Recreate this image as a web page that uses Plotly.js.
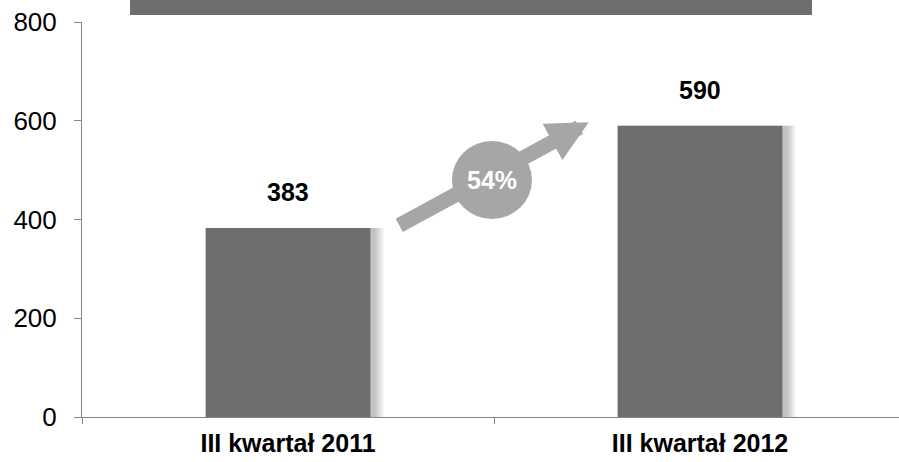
<!DOCTYPE html>
<html>
<head>
<meta charset="utf-8">
<script src="https://cdn.plot.ly/plotly-3.0.1.min.js"></script>
<style>
  html, body { margin: 0; padding: 0; background: #fff; }
  #chart { width: 899px; height: 462px; }
</style>
</head>
<body>
<div id="chart"></div>
<script>
const categories = ['III kwartał 2011', 'III kwartał 2012'];
const values = [383, 590];
const growthLabel = '54%';
const yTicks = [0, 200, 400, 600, 800];

const barColor = '#6d6e70';
const arrowColor = '#a6a6a6';
const fontFam = 'Liberation Sans, Arial, sans-serif';

// miękki cień z prawej strony słupków
const shadowSteps = [11, 9, 7, 5, 3];
const shadows = shadowSteps.map(k => ({
    type: 'bar',
    x: categories,
    y: values,
    width: 0.4 + k * 0.00243,
    offset: -0.2 + 0.005,
    marker: { color: 'rgba(0,0,0,0.05)', line: { width: 0 } },
    hoverinfo: 'skip'
}));

const bars = {
    type: 'bar',
    x: categories,
    y: values,
    width: 0.4,
    offset: -0.2,
    marker: { color: barColor, line: { width: 0 } },
    hoverinfo: 'skip'
};

// etykiety nad słupkami
const labelAnnotations = categories.map((c, i) => ({
    x: c, y: values[i], text: '<b>' + values[i] + '</b>',
    showarrow: false, yshift: 36,
    font: { size: 25, color: '#000', family: fontFam }
}));

// strzałka wzrostu
const arrowAnnotation = {
    x: 0.73, y: 597, xref: 'x', yref: 'y',
    ax: -191, ay: 104, axref: 'pixel', ayref: 'pixel',
    text: '', showarrow: true,
    arrowhead: 2, arrowsize: 0.55, arrowwidth: 15, arrowcolor: arrowColor
};

const growthText = {
    x: 0.495, y: 480, xref: 'x', yref: 'y',
    text: '<b>' + growthLabel + '</b>', showarrow: false,
    font: { size: 25, color: '#ffffff', family: fontFam }
};

const layout = {
    width: 899, height: 462,
    margin: { l: 82, r: 0, t: 22, b: 45 },
    paper_bgcolor: '#fff', plot_bgcolor: '#fff',
    font: { family: fontFam, size: 24, color: '#000' },
    showlegend: false,
    barmode: 'overlay',
    xaxis: {
        type: 'category',
        range: [-0.5, 1.483],
        showline: true, linecolor: '#868686', linewidth: 1,
        ticks: 'outside', tickson: 'boundaries', ticklen: 6, tickcolor: '#868686',
        tickfont: { size: 25, color: '#000', family: fontFam, weight: 'bold' },
        ticklabelstandoff: 4,
        showgrid: false, zeroline: false, fixedrange: true
    },
    yaxis: {
        range: [0, 800],
        tickvals: yTicks,
        showline: true, linecolor: '#868686', linewidth: 1,
        ticks: 'outside', ticklen: 7, tickcolor: '#868686',
        tickfont: { size: 26, color: '#000', family: fontFam },
        ticklabelstandoff: 12,
        showgrid: false, zeroline: false, fixedrange: true
    },
    shapes: [
        // ciemny pasek u góry (tytuł ucięty)
        { type: 'rect', xref: 'paper', yref: 'paper', x0: 0.0588, x1: 0.8935, y0: 1.0177, y1: 1.07,
          fillcolor: barColor, line: { width: 0 }, layer: 'above' },
        // koło z procentem
        { type: 'circle', xref: 'x', yref: 'y', xsizemode: 'pixel', ysizemode: 'pixel',
          xanchor: 0.495, yanchor: 480, x0: -40, x1: 40, y0: -39, y1: 39,
          fillcolor: arrowColor, line: { width: 0 }, layer: 'above' }
    ],
    annotations: [...labelAnnotations, arrowAnnotation, growthText]
};

Plotly.newPlot('chart', [...shadows, bars], layout, { displayModeBar: false, staticPlot: true });
</script>
</body>
</html>
